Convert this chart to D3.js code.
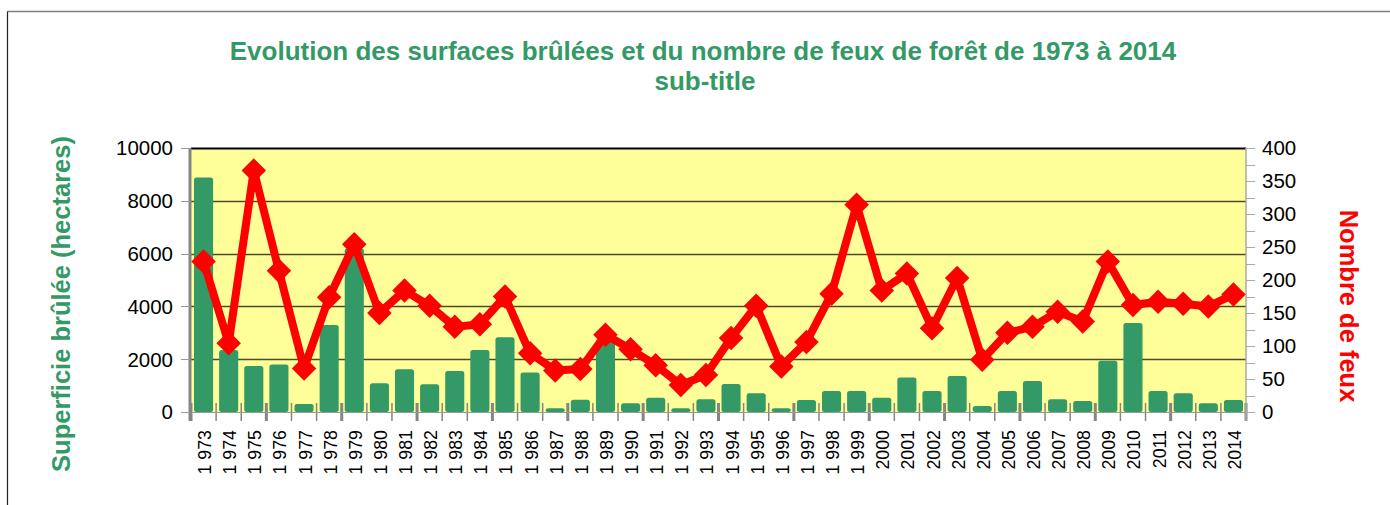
<!DOCTYPE html>
<html>
<head>
<meta charset="utf-8">
<script src="https://cdn.jsdelivr.net/npm/d3@7"></script>
<style>
  html, body { margin: 0; padding: 0; background: #fff; }
  svg { display: block; font-family: "Liberation Sans", Arial, sans-serif; }
</style>
</head>
<body>
<svg id="chart"></svg>
<script>
// years on the x axis
const years = d3.range(1973, 2015);

// burned surface (hectares), left axis
const surfaces = [
  8880, 2350, 1740, 1800, 300, 3300, 6200, 1090, 1620, 1050,
  1550, 2350, 2830, 1500, 140, 460, 2750, 330, 540, 140,
  480, 1060, 710, 140, 455, 795, 795, 540, 1310, 795,
  1360, 230, 795, 1170, 480, 420, 1940, 3370, 795, 710,
  330, 455
];

// number of fires, right axis
const fires = [
  228, 104, 366, 214, 66, 174, 254, 150, 184, 161,
  129, 133, 175, 89, 63, 65, 117, 95, 71, 41,
  56, 112, 161, 69, 106, 179, 314, 184, 210, 127,
  203, 79, 120, 129, 152, 137, 228, 162, 167, 164,
  160, 178
];

const leftTicks = [0, 2000, 4000, 6000, 8000, 10000];
const rightTicks = [0, 50, 100, 150, 200, 250, 300, 350, 400];

const GREEN = '#339966';
const RED = '#ff0000';

const width = 1390, height = 505;
const plot = { left: 191, right: 1246, top: 148, bottom: 412 };

const svg = d3.select('#chart').attr('width', width).attr('height', height);

// outer frame (only top and left edges are visible)
svg.append('line')
  .attr('x1', 7.5).attr('x2', width).attr('y1', 11.5).attr('y2', 11.5)
  .attr('stroke', '#808080').attr('stroke-width', 1.5);
svg.append('line')
  .attr('x1', 7.5).attr('x2', 7.5).attr('y1', 11.5).attr('y2', height)
  .attr('stroke', '#222').attr('stroke-width', 1.2);

// titles
svg.append('text')
  .attr('x', 703).attr('y', 60)
  .attr('text-anchor', 'middle')
  .style('font-size', '26px').style('font-weight', '700')
  .style('fill', GREEN)
  .text('Evolution des surfaces brûlées et du nombre de feux de forêt de 1973 à 2014');

svg.append('text')
  .attr('x', 705).attr('y', 90)
  .attr('text-anchor', 'middle')
  .style('font-size', '26px').style('font-weight', '700')
  .style('fill', GREEN)
  .text('sub-title');

const x = d3.scaleBand()
  .domain(years)
  .range([plot.left, plot.right])
  .paddingInner(0.24)
  .paddingOuter(0.12);

const xStep = d3.scaleBand().domain(years).range([plot.left, plot.right]);

const yLeft = d3.scaleLinear().domain([0, 10000]).range([plot.bottom, plot.top]);
const yRight = d3.scaleLinear().domain([0, 400]).range([plot.bottom, plot.top]);

// plot background
svg.append('rect')
  .attr('x', plot.left).attr('y', plot.top)
  .attr('width', plot.right - plot.left).attr('height', plot.bottom - plot.top)
  .attr('fill', '#ffff99');

// horizontal grid
svg.append('g')
  .selectAll('line')
  .data(leftTicks.filter(d => d > 0))
  .enter()
  .append('line')
  .attr('x1', plot.left).attr('x2', plot.right)
  .attr('y1', d => Math.round(yLeft(d)) + 0.5)
  .attr('y2', d => Math.round(yLeft(d)) + 0.5)
  .attr('stroke', d => d === 10000 ? '#000' : '#4a4a30')
  .attr('stroke-width', d => d === 10000 ? 2 : 1.4);

// x axis ticks at category boundaries
svg.append('g')
  .selectAll('line')
  .data(years.concat([null]))
  .enter()
  .append('line')
  .attr('x1', (d, i) => plot.left + i * xStep.step())
  .attr('x2', (d, i) => plot.left + i * xStep.step())
  .attr('y1', 403).attr('y2', 421)
  .attr('stroke', '#858585')
  .attr('stroke-width', (d, i) => i % 3 === 0 ? 3 : 1.5);

// bars
svg.append('g')
  .selectAll('rect')
  .data(surfaces)
  .enter()
  .append('rect')
  .attr('x', (d, i) => x(years[i]))
  .attr('y', d => yLeft(d))
  .attr('width', x.bandwidth())
  .attr('height', d => plot.bottom - yLeft(d))
  .attr('rx', 2.5)
  .attr('fill', GREEN);

// bottom axis line
svg.append('line')
  .attr('x1', plot.left - 10).attr('x2', plot.right + 8)
  .attr('y1', plot.bottom + 0.5).attr('y2', plot.bottom + 0.5)
  .attr('stroke', '#999').attr('stroke-width', 1);

// left axis
const leftAxis = svg.append('g');
leftAxis.append('line')
  .attr('x1', plot.left - 1).attr('x2', plot.left - 1)
  .attr('y1', plot.top).attr('y2', plot.bottom + 9)
  .attr('stroke', '#858585').attr('stroke-width', 3);
leftAxis.selectAll('.tick')
  .data(leftTicks)
  .enter()
  .append('line')
  .attr('x1', plot.left - 10).attr('x2', plot.left - 1)
  .attr('y1', d => Math.round(yLeft(d)) + 0.5)
  .attr('y2', d => Math.round(yLeft(d)) + 0.5)
  .attr('stroke', '#999').attr('stroke-width', 1);
leftAxis.selectAll('text')
  .data(leftTicks)
  .enter()
  .append('text')
  .attr('x', 173)
  .attr('y', d => yLeft(d))
  .attr('dy', '0.36em')
  .attr('text-anchor', 'end')
  .style('font-size', '20.5px')
  .style('fill', '#000')
  .text(d => d);

// right axis
const rightAxis = svg.append('g');
rightAxis.append('line')
  .attr('x1', plot.right).attr('x2', plot.right)
  .attr('y1', plot.top).attr('y2', plot.bottom + 9)
  .attr('stroke', '#aaa').attr('stroke-width', 1.5);
rightAxis.selectAll('.tick')
  .data(d3.range(0, 401, 25))
  .enter()
  .append('line')
  .attr('x1', plot.right).attr('x2', plot.right + 9)
  .attr('y1', d => Math.round(yRight(d)) + 0.5)
  .attr('y2', d => Math.round(yRight(d)) + 0.5)
  .attr('stroke', '#aaa').attr('stroke-width', 1);
rightAxis.selectAll('text')
  .data(rightTicks)
  .enter()
  .append('text')
  .attr('x', 1262)
  .attr('y', d => yRight(d))
  .attr('dy', '0.36em')
  .style('font-size', '20.5px')
  .style('fill', '#000')
  .text(d => d);

// x labels, French thousands separator before 2000
const fmtYear = y => y < 2000 ? String(y).slice(0, 1) + '\u00a0' + String(y).slice(1) : String(y);
svg.append('g')
  .selectAll('text')
  .data(years)
  .enter()
  .append('text')
  .attr('transform', d => `translate(${x(d) + x.bandwidth() / 2 + 7.5}, 430) rotate(-90)`)
  .attr('text-anchor', 'end')
  .style('font-size', '17.8px')
  .style('fill', '#000')
  .text(fmtYear);

// fires line
const line = d3.line()
  .x((d, i) => x(years[i]) + x.bandwidth() / 2)
  .y(d => yRight(d));

svg.append('path')
  .datum(fires)
  .attr('d', line)
  .attr('fill', 'none')
  .attr('stroke', RED)
  .attr('stroke-width', 8)
  .attr('stroke-linejoin', 'round');

const diamond = d3.symbol().type(d3.symbolSquare).size(300);
svg.append('g')
  .selectAll('path')
  .data(fires)
  .enter()
  .append('path')
  .attr('d', diamond)
  .attr('transform', (d, i) => `translate(${x(years[i]) + x.bandwidth() / 2}, ${yRight(d)}) rotate(45)`)
  .attr('fill', RED);

// axis titles
svg.append('text')
  .attr('transform', 'translate(70, 304) rotate(-90)')
  .attr('text-anchor', 'middle')
  .style('font-size', '25.5px').style('font-weight', '700')
  .style('fill', GREEN)
  .text('Superficie brûlée (hectares)');

svg.append('text')
  .attr('transform', 'translate(1340, 306) rotate(90)')
  .attr('text-anchor', 'middle')
  .style('font-size', '25.5px').style('font-weight', '700')
  .style('fill', RED)
  .text('Nombre de feux');
</script>
</body>
</html>
